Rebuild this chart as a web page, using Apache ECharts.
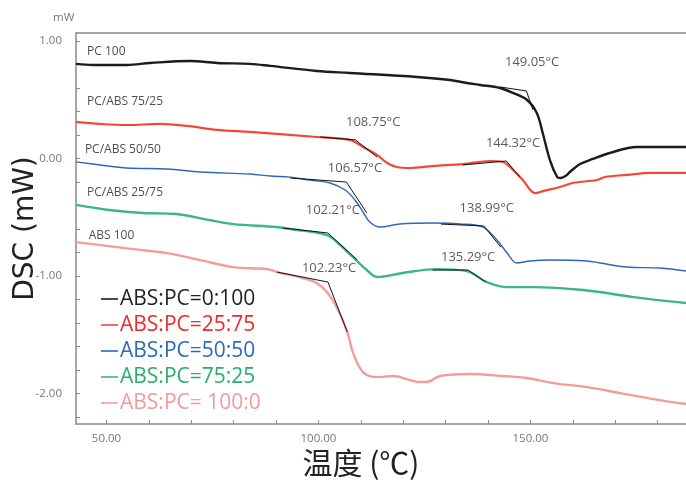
<!DOCTYPE html>
<html>
<head>
<meta charset="utf-8">
<script src="https://cdn.jsdelivr.net/npm/echarts@6/dist/echarts.min.js"></script>
<style>html,body{margin:0;padding:0;background:#fff}#c{width:686px;height:485px}</style>
</head>
<body>
<div id="c"></div>
<script>
// ---- data (x: °C, y: mW) ----
const seriesNames = ['ABS:PC=0:100', 'ABS:PC=25:75', 'ABS:PC=50:50', 'ABS:PC=75:25', 'ABS:PC= 100:0'];
const pc100 = [[42.8,0.803],[46.8,0.794],[54.8,0.794],[60.3,0.811],[69.7,0.828],[76.1,0.811],[83.8,0.803],[88.6,0.786],[99.6,0.743],[107.4,0.726],[123.2,0.692],[131.1,0.666],[135.0,0.641],[138.2,0.624],[142.8,0.598],[145.9,0.556],[149.2,0.496],[151.5,0.386],[152.9,0.215],[154.6,-0.015],[156.3,-0.159],[157.0,-0.168],[158.6,-0.142],[159.3,-0.117],[161.7,-0.049],[164.7,-0.006],[168.7,0.045],[175.1,0.096],[186.7,0.096]];
const pcabs7525 = [[42.8,0.309],[48.5,0.292],[54.8,0.283],[62.6,0.292],[69.0,0.275],[76.1,0.241],[83.8,0.224],[99.6,0.181],[107.4,0.156],[110.5,0.096],[113.8,0.028],[116.2,-0.040],[118.5,-0.074],[121.6,-0.083],[127.0,-0.066],[134.1,-0.049],[140.5,-0.023],[143.5,-0.032],[145.9,-0.100],[148.2,-0.185],[151.1,-0.296],[153.0,-0.279],[157.0,-0.244],[160.0,-0.210],[165.7,-0.185],[167.6,-0.159],[172.8,-0.142],[178.2,-0.125],[186.7,-0.125]];
const pcabs5050 = [[42.8,-0.031],[48.5,-0.057],[54.8,-0.083],[64.3,-0.091],[72.1,-0.117],[83.8,-0.134],[88.6,-0.151],[93.3,-0.160],[98.0,-0.185],[102.7,-0.210],[106.3,-0.270],[108.6,-0.355],[110.5,-0.457],[112.1,-0.542],[114.5,-0.585],[119.2,-0.559],[127.0,-0.551],[133.4,-0.559],[138.8,-0.585],[142.1,-0.696],[144.5,-0.806],[146.8,-0.891],[149.9,-0.874],[154.6,-0.866],[163.4,-0.874],[166.4,-0.891],[172.8,-0.925],[180.6,-0.934],[186.7,-0.959]];
const pcabs2575 = [[42.8,-0.397],[50.6,-0.440],[58.6,-0.466],[66.4,-0.474],[74.2,-0.525],[79.9,-0.560],[90.0,-0.585],[93.3,-0.602],[102.0,-0.653],[105.1,-0.738],[108.1,-0.840],[111.4,-0.951],[113.8,-1.010],[119.9,-0.976],[127.9,-0.943],[135.0,-0.960],[139.7,-1.053],[144.5,-1.096],[150.6,-1.096],[162.5,-1.121],[174.3,-1.181],[186.7,-1.232]];
const abs100 = [[42.8,-0.713],[56.3,-0.773],[64.3,-0.807],[72.1,-0.866],[79.9,-0.926],[87.9,-0.943],[90.2,-0.968],[96.3,-1.019],[99.6,-1.062],[102.0,-1.138],[104.4,-1.274],[106.8,-1.478],[108.1,-1.649],[110.5,-1.819],[113.8,-1.862],[117.6,-1.853],[121.6,-1.887],[123.9,-1.904],[125.6,-1.904],[128.7,-1.853],[135.8,-1.836],[143.6,-1.853],[149.2,-1.870],[155.4,-1.913],[163.4,-1.947],[171.2,-1.998],[179.0,-2.049],[186.7,-2.091]];

// onset tangent constructions (baseline point, onset vertex, slope point)
const tangents = [
  [[142.8,0.607],[149.05,0.573],[150.6,0.411]],
  [[100.4,0.181],[108.75,0.156],[113.8,0.011]],
  [[134.1,-0.057],[144.32,-0.023],[147.5,-0.159]],
  [[93.3,-0.168],[106.57,-0.202],[111.4,-0.465]],
  [[128.9,-0.560],[138.99,-0.576],[143.0,-0.755]],
  [[91.6,-0.593],[102.21,-0.636],[109.1,-0.864]],
  [[126.9,-0.951],[135.29,-0.951],[139.4,-1.053]],
  [[90.2,-0.968],[102.23,-1.053],[106.8,-1.478]]
];

// onset temperature labels [x, y, text]
const onsetLabels = [
  [150.4,0.820,'149.05°C'],[112.9,0.309,'108.75°C'],[145.9,0.130,'144.32°C'],[108.6,-0.083,'106.57°C'],
  [103.4,-0.441,'102.21°C'],[139.7,-0.424,'138.99°C'],[135.3,-0.841,'135.29°C'],[102.5,-0.934,'102.23°C']
];
// curve names [x, y, text]
const curveNames = [
  [45.4,0.905,'PC 100'],[45.4,0.479,'PC/ABS 75/25'],[44.9,0.071,'PC/ABS 50/50'],[45.4,-0.295,'PC/ABS 25/75'],[45.8,-0.661,'ABS 100']
];

const xTicks = [50,60,70,80,90,100,110,120,130,140,150,160,170,180];
const xTickLabels = [50,100,150];
const yTicks = [-2.2,-2.0,-1.8,-1.6,-1.4,-1.2,-1.0,-0.8,-0.6,-0.4,-0.2,0,0.2,0.4,0.6,0.8,1.0];
const yTickLabels = [-2,-1,0,1];

const lineColors = ['#1c1c1c','#f2483a','#2f66be','#3bb87d','#f59b9b'];
const textColors = ['#231f20','#ee2a2a','#2a6bb5','#2aae6a','#f49a9a'];
const lineWidths = [2.4,2.2,1.4,2.4,2.4];
const curves = [pc100, pcabs7525, pcabs5050, pcabs2575, abs100];

const chart = echarts.init(document.getElementById('c'), null, {renderer:'canvas'});
const series = curves.map((d,i)=>({
  name: seriesNames[i], type:'line', data:d, showSymbol:false, smooth:0.35,
  lineStyle:{color:lineColors[i], width:lineWidths[i]}, itemStyle:{color:lineColors[i]}, z:2
}));
tangents.forEach(t=>series.push({
  type:'line', data:t, showSymbol:false, smooth:false, silent:true,
  lineStyle:{color:'#111', width:1}, z:3
}));
series.push({
  type:'scatter', data:onsetLabels, symbolSize:0, silent:true, z:5,
  label:{show:true, position:'inside', formatter:p=>p.data[2], color:'#333', fontSize:13, fontFamily:'Open Sans'}
});
series.push({
  type:'scatter', data:curveNames, symbolSize:0, silent:true, z:5,
  label:{show:true, position:'right', distance:0, formatter:p=>p.data[2], color:'#222', fontSize:12, fontFamily:'Open Sans'}
});

chart.setOption({
  animation:false,
  backgroundColor:'#fff',
  textStyle:{fontFamily:'Open Sans'},
  grid:{left:76, right:0, top:33, bottom:61, containLabel:false, outerBoundsMode:'none'},
  legend:{
    orient:'vertical', left:96, top:283, itemGap:4, itemWidth:17, itemHeight:1.6,
    icon:'rect', selectedMode:false,
    data: seriesNames.map((n,i)=>({name:n, itemStyle:{color:lineColors[i]}, textStyle:{color:textColors[i]}})),
    textStyle:{fontSize:21, fontFamily:'Open Sans', lineHeight:22, padding:[0,0,0,-3]}
  },
  xAxis:[{
    type:'value', min:42.8, max:186.7,
    name:'温度 (℃)', nameLocation:'middle', nameGap:24, nameMoveOverlap:false,
    nameTextStyle:{fontSize:30, color:'#222', fontFamily:'Noto Sans CJK SC', padding:[0,40,0,0]},
    axisLine:{show:true, onZero:false, lineStyle:{color:'#8a8a8a', width:1.5}},
    axisTick:{show:true, inside:true, length:4, customValues:xTicks, lineStyle:{color:'#8a8a8a'}},
    axisLabel:{customValues:xTickLabels, formatter:v=>v.toFixed(2), color:'#777', fontSize:11.5, margin:9},
    splitLine:{show:false}
  },{
    type:'value', position:'top', min:42.8, max:186.7,
    axisLine:{show:true, onZero:false, lineStyle:{color:'#8a8a8a', width:1.5}},
    axisTick:{show:false}, axisLabel:{show:false}, splitLine:{show:false}
  }],
  yAxis:{
    type:'value', min:-2.261, max:1.066,
    name:'DSC (mW)', nameLocation:'middle', nameGap:36, nameRotate:90, nameMoveOverlap:false,
    nameTextStyle:{fontSize:28, color:'#222', fontFamily:'DejaVu Sans'},
    axisLine:{show:true, onZero:false, lineStyle:{color:'#8a8a8a', width:1.5}},
    axisTick:{show:true, inside:true, length:4, customValues:yTicks, lineStyle:{color:'#8a8a8a'}},
    axisLabel:{customValues:yTickLabels, formatter:v=>v.toFixed(2), color:'#777', fontSize:11.5, margin:14},
    splitLine:{show:false}
  },
  graphic:[{type:'text', left:53, top:12, style:{text:'mW', fill:'#777', fontSize:11.5, fontFamily:'Open Sans'}}],
  series: series
});
</script>
</body>
</html>
